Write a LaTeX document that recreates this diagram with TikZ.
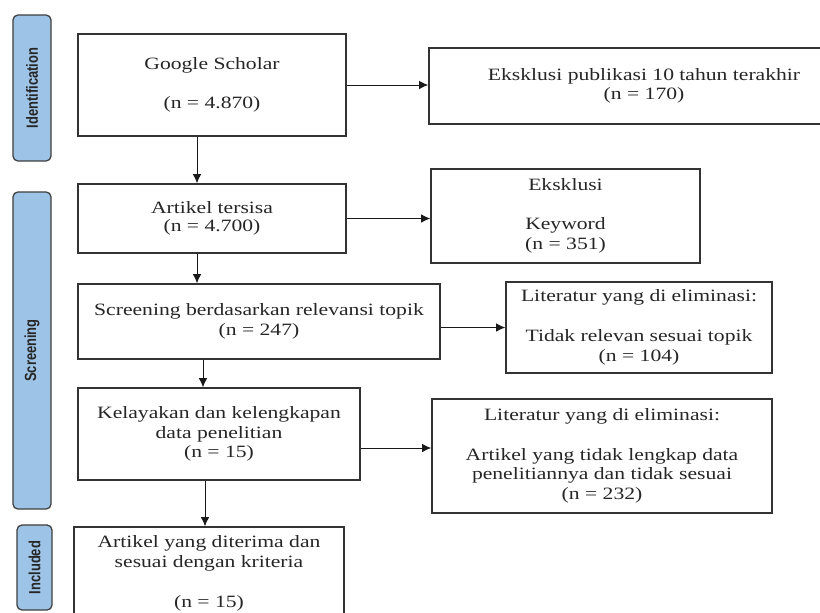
\documentclass[tikz,border=0pt]{standalone}
\usepackage{fontspec}
\setmainfont{Liberation Serif}
\newfontfamily\labelfont{Liberation Sans}
\usepackage{graphicx}
\usetikzlibrary{shapes,arrows.meta,positioning,calc}

% text of the boxes is a bit wider than high in the original
\newcommand{\boxtext}[1]{\scalebox{1.25}[1]{\begin{tabular}{@{}c@{}}#1\end{tabular}}}
\newcommand{\phasetext}[1]{\scalebox{1}[1.25]{\bfseries #1}}

\tikzset{
    stage/.style={draw=black!80, line width=0.9pt, fill=white, inner sep=0pt,
        font=\fontsize{12.3}{14.2}\selectfont, text=black!85},
    phase/.style={draw=black!75, line width=0.9pt, fill=phaseblue, rounded corners=3.5pt,
        rotate=90, inner sep=0pt, font=\labelfont\fontsize{9.2}{11}\selectfont, text=black!85},
    arr/.style={-{Latex[length=6.5pt,width=6pt]}, line width=0.7pt, black!90}
}
\definecolor{phaseblue}{RGB}{157,195,230}

\begin{document}
\begin{tikzpicture}[x=0.025cm, y=-0.025cm]
    \useasboundingbox (0,0) rectangle (820,612);
    \clip (0,0) rectangle (820,612);

    % phases
    \node[phase, minimum width=3.65cm, minimum height=0.95cm] (pid) at (32,88) {\phasetext{Identification}};
    \node[phase, minimum width=7.925cm, minimum height=0.95cm] (pscr) at (32,350.5) {\phasetext{Screening}};
    \node[phase, minimum width=2.125cm, minimum height=0.875cm] (pinc) at (34.5,567.5) {\phasetext{Included}};

    % left column
    \node[stage, minimum width=6.7cm, minimum height=2.55cm] (gs) at (212,85)
        {\boxtext{Google Scholar\\ \\ (n = 4.870)}};
    \node[stage, minimum width=6.7cm, minimum height=1.725cm] (art) at (212,218.5)
        {\boxtext{Artikel tersisa\\[-2pt] (n = 4.700)}};
    \node[stage, minimum width=9.05cm, minimum height=1.875cm] (scr) at (259,321.5)
        {\boxtext{Screening berdasarkan relevansi topik\\ (n = 247)}};
    \node[stage, minimum width=7.05cm, minimum height=2.3cm] (kel) at (219,434)
        {\boxtext{Kelayakan dan kelengkapan\\ data penelitian\\ (n = 15)}};
    \node[stage, minimum width=6.75cm, minimum height=2.325cm] (inc) at (209,573.5)
        {\boxtext{Artikel yang diterima dan\\ sesuai dengan kriteria\\ \\ (n = 15)}};

    % right column
    \node[stage, minimum width=10.75cm, minimum height=1.9cm] (eks1) at (644,86)
        {\boxtext{Eksklusi publikasi 10 tahun terakhir\\ (n = 170)}};
    \node[stage, minimum width=6.725cm, minimum height=2.35cm] (eks2) at (565.5,216)
        {\boxtext{Eksklusi\\ \\ Keyword\\ (n = 351)}};
    \node[stage, minimum width=6.65cm, minimum height=2.275cm] (lit1) at (639,327.5)
        {\boxtext{Literatur yang di eliminasi:\\ \\ Tidak relevan sesuai topik\\ (n = 104)}};
    \node[stage, minimum width=8.5cm, minimum height=2.85cm] (lit2) at (602,456)
        {\boxtext{Literatur yang di eliminasi:\\ \\ Artikel yang tidak lengkap data\\ penelitiannya dan tidak sesuai\\ (n = 232)}};

    % flow down
    \coordinate (d1) at ($(gs.south)+(-15,0)$);
    \coordinate (d2) at ($(art.south)+(-15,0)$);
    \coordinate (d3) at ($(scr.south)+(-56,0)$);
    \coordinate (d4) at ($(kel.south)+(-14,0)$);
    \draw[arr] (d1) -- (d1 |- art.north);
    \draw[arr] (d2) -- (d2 |- scr.north);
    \draw[arr] (d3) -- (d3 |- kel.north);
    \draw[arr] (d4) -- (d4 |- inc.north);

    % exclusions
    \coordinate (r4) at ($(kel.east)+(0,14)$);
    \draw[arr] (gs.east) -- (gs.east -| eks1.west);
    \draw[arr] (art.east) -- (art.east -| eks2.west);
    \draw[arr] (lit1.west -| scr.east) -- (lit1.west);
    \draw[arr] (r4) -- (r4 -| lit2.west);

\end{tikzpicture}
\end{document}
